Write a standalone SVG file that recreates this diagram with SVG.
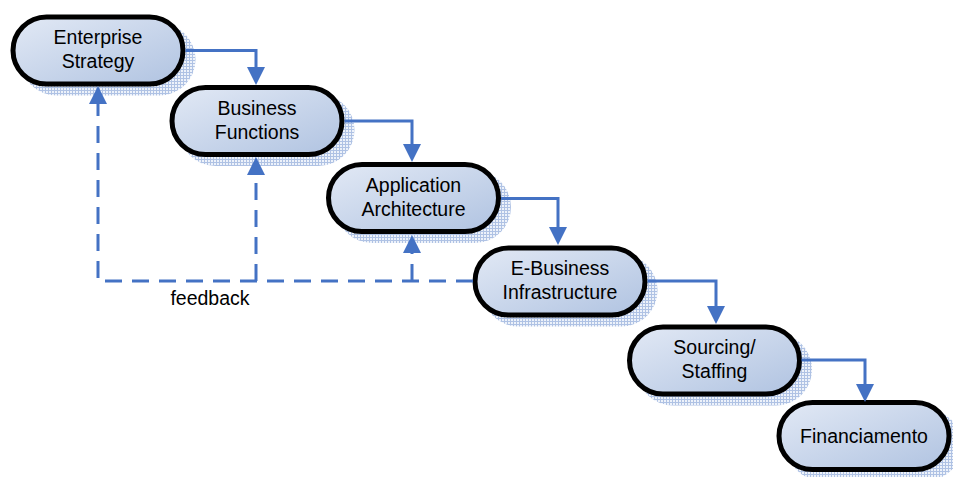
<svg xmlns="http://www.w3.org/2000/svg" width="953" height="477" viewBox="0 0 953 477">
  <defs>
    <linearGradient id="nodeFill" x1="0" y1="0" x2="1" y2="1">
      <stop offset="0" stop-color="#e2e9f5"/>
      <stop offset="1" stop-color="#b0c3e1"/>
    </linearGradient>
    <pattern id="shadowDots" width="3" height="3" patternUnits="userSpaceOnUse">
      <rect width="3" height="3" fill="#edf2fa"/>
      <path d="M0,0.5H3M0.5,0V3" stroke="#afc2e4" stroke-width="1"/>
    </pattern>
    <marker id="arrow" viewBox="0 0 18 18" refX="1" refY="9" markerWidth="18" markerHeight="18" markerUnits="userSpaceOnUse" orient="auto">
      <path d="M0,0 L18,9 L0,18 z" fill="#4472c4"/>
    </marker>
    <style>
      .shadow { fill: url(#shadowDots); }
      .box { fill: url(#nodeFill); stroke: #000; stroke-width: 5; }
      .label { font-family: "Liberation Sans", Arial, sans-serif; font-size: 19.5px; fill: #000; text-anchor: middle; }
      .flow { fill: none; stroke: #4472c4; stroke-width: 3; marker-end: url(#arrow); }
      .dash { stroke-dasharray: 17 10; }
    </style>
  </defs>

  <!-- process steps: shadow, rounded box, label -->
  <g id="enterprise-strategy">
    <rect class="shadow" x="20.5" y="23.5" width="175" height="72" rx="36"/>
    <rect class="box" x="13" y="17" width="170" height="67" rx="33.5"/>
    <text class="label" x="98" y="44">Enterprise</text>
    <text class="label" x="98" y="68">Strategy</text>
  </g>
  <g id="business-functions">
    <rect class="shadow" x="179.5" y="94" width="175" height="72" rx="36"/>
    <rect class="box" x="172" y="87.5" width="170" height="67" rx="33.5"/>
    <text class="label" x="257" y="114.5">Business</text>
    <text class="label" x="257" y="138.5">Functions</text>
  </g>
  <g id="application-architecture">
    <rect class="shadow" x="336" y="171" width="175" height="72" rx="36"/>
    <rect class="box" x="328.5" y="164.5" width="170" height="67" rx="33.5"/>
    <text class="label" x="413.5" y="191.5">Application</text>
    <text class="label" x="413.5" y="215.5">Architecture</text>
  </g>
  <g id="e-business-infrastructure">
    <rect class="shadow" x="482.5" y="254.5" width="175" height="72" rx="36"/>
    <rect class="box" x="475" y="248" width="170" height="67" rx="33.5"/>
    <text class="label" x="560" y="275">E-Business</text>
    <text class="label" x="560" y="299">Infrastructure</text>
  </g>
  <g id="sourcing-staffing">
    <rect class="shadow" x="637" y="333.5" width="175" height="72" rx="36"/>
    <rect class="box" x="629.5" y="327" width="170" height="67" rx="33.5"/>
    <text class="label" x="714.5" y="354">Sourcing/</text>
    <text class="label" x="714.5" y="378">Staffing</text>
  </g>
  <g id="financiamento">
    <rect class="shadow" x="786.5" y="409" width="175" height="72" rx="36"/>
    <rect class="box" x="779" y="402.5" width="170" height="67" rx="33.5"/>
    <text class="label" x="864" y="443">Financiamento</text>
  </g>

  <!-- forward flow and dashed feedback paths -->
  <g id="connectors">
    <path class="flow" d="M185.5,50.5 H256 V68"/>
    <path class="flow" d="M344.5,121 H412 V145"/>
    <path class="flow" d="M501,198.5 H558 V228"/>
    <path class="flow" d="M647.5,281 H716 V307"/>
    <path class="flow" d="M801.5,360 H865 V385"/>
    <path class="flow dash" d="M473,281 H98 V103"/>
    <path class="flow dash" d="M256,281 V174"/>
    <path class="flow dash" d="M412,281 V252"/>
    <text class="label" x="210" y="305">feedback</text>
  </g>
</svg>
